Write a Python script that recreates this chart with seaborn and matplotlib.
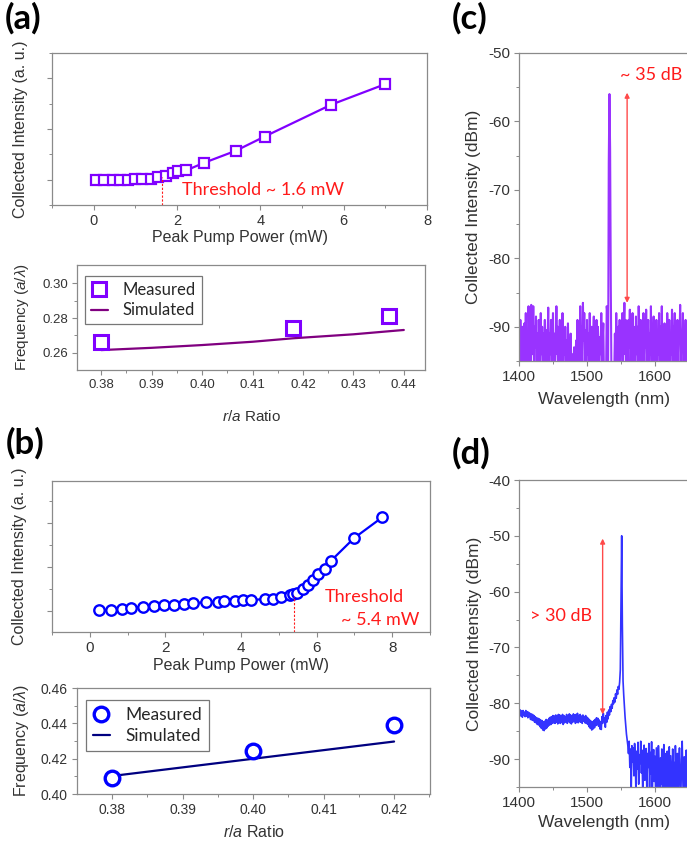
import matplotlib
matplotlib.use("Agg")
import matplotlib.pyplot as plt
import numpy as np
import pandas as pd
import seaborn as sns

# ---------------- data ----------------
# (a) violet laser: light-in / light-out
a_power = [0.06, 0.24, 0.46, 0.64, 0.82, 0.98, 1.17, 1.37, 1.55, 1.73, 1.90,
           2.03, 2.22, 2.64, 3.41, 4.10, 5.70, 6.98]
a_intensity = [0.0, 0.0, 0.0, 0.0, 0.002, 0.005, 0.008, 0.013, 0.046, 0.078,
               0.13, 0.163, 0.183, 0.33, 0.57, 0.85, 1.48, 1.88]
a_threshold = 1.65

# (a) frequency vs r/a
a_ratio_meas = [0.380, 0.418, 0.437]
a_freq_meas = [0.2663, 0.2742, 0.2813]
a_ratio_sim = [0.380, 0.390, 0.400, 0.410, 0.418, 0.430, 0.440]
a_freq_sim = [0.2615, 0.2628, 0.2644, 0.2663, 0.2683, 0.2706, 0.2731]

# (b) blue laser: light-in / light-out
b_power = [0.25, 0.57, 0.85, 1.10, 1.41, 1.69, 1.97, 2.22, 2.48, 2.74, 3.07,
           3.40, 3.56, 3.84, 4.04, 4.26, 4.63, 4.85, 5.07, 5.29, 5.38, 5.49,
           5.64, 5.78, 5.91, 6.04, 6.22, 6.37, 6.99, 7.73]
b_intensity = [0.015, 0.030, 0.053, 0.076, 0.091, 0.114, 0.129, 0.144, 0.159,
               0.174, 0.197, 0.212, 0.227, 0.235, 0.242, 0.250, 0.265, 0.280,
               0.318, 0.356, 0.380, 0.417, 0.508, 0.583, 0.712, 0.848, 0.947,
               1.129, 1.652, 2.121]
b_threshold = 5.41

# (b) frequency vs r/a
b_ratio_meas = [0.38, 0.40, 0.42]
b_freq_meas = [0.4093, 0.4245, 0.4391]
b_ratio_sim = [0.38, 0.42]
b_freq_sim = [0.4102, 0.4297]

# (c) spectrum, 1 nm steps from 1400 nm
c_start = 1400
c_dbm = [
    -91, -95, -89, -93, -96, -90, -92, -97, -89.5, -94,
    -88, -95, -91, -96, -87, -93, -90, -97, -86.8, -92,
    -94, -87, -96, -90, -93, -88.5, -95, -91, -97, -89,
    -92, -96, -88, -94, -90, -97, -91, -93, -89, -96,
    -90.5, -95, -92, -87.2, -96, -91, -94, -89, -97, -92,
    -88, -95, -91, -96, -93, -87, -94, -90, -97, -92.5,
    -89, -96, -93, -95, -88, -97, -91, -94, -90, -96,
    -92, -97, -89.5, -95, -93, -96, -91, -97, -94, -95.5,
    -96, -93, -97, -95, -92, -96, -89, -94, -91, -97,
    -87, -93, -90, -96, -86.5, -92, -88, -95, -90.5, -97,
    -89, -94, -91, -96, -88, -93, -95, -90, -97, -92,
    -88.5, -96, -91, -94, -89, -97, -90, -93, -96, -91.5,
    -94, -88, -96, -92, -89.5, -98, -98, -98, -98, -87,
    -88, -98, -66, -56, -64, -84, -98, -98, -98, -98,
    -97, -91, -95, -88, -93, -96, -90, -94, -89, -96,
    -91, -93, -88, -97, -90, -86.5, -94, -89, -96, -91,
    -95, -89, -93, -87.5, -96, -91, -94, -88, -97, -90,
    -93, -96, -88.5, -94, -90, -97, -87, -92, -95, -89,
    -96, -91, -94, -88, -97, -90.5, -93, -87.5, -95, -92,
    -89, -96, -91, -94, -87, -97, -90, -93, -88.5, -96,
    -92, -95, -89, -97, -91, -94, -88, -96, -90, -93,
    -87, -95, -92, -96, -89.5, -94, -90, -97, -88, -93,
    -95, -89, -96, -91, -94, -87.5, -97, -90, -93, -88,
    -96, -91, -94, -89, -97, -90, -92, -86.8, -95, -91,
    -93, -88, -96, -90, -94, -89, -97, -91, -93, -88,
    -95,
]

# (d) spectrum, 1 nm steps from 1400 nm
d_start = 1400
d_dbm = [
    -81.0, -82.2, -81.2, -82.3, -81.4, -82.5, -81.3, -82.1, -81.6, -82.4,
    -81.3, -82.3, -81.5, -82.6, -81.6, -82.4, -81.8, -82.9, -81.9, -83.0,
    -82.0, -83.1, -82.2, -83.4, -82.4, -83.5, -82.6, -83.8, -82.7, -83.9,
    -82.8, -84.2, -83.0, -84.5, -83.1, -84.8, -83.3, -84.9, -83.2, -84.6,
    -82.9, -84.4, -83.0, -84.1, -82.7, -83.9, -82.5, -83.8, -82.4, -83.6,
    -82.2, -83.5, -82.3, -83.6, -82.1, -83.4, -82.2, -83.7, -82.0, -83.5,
    -82.1, -83.6, -82.3, -83.4, -82.0, -83.8, -82.2, -83.5, -82.4, -83.3,
    -82.0, -83.6, -82.2, -83.3, -81.9, -83.5, -82.1, -83.7, -82.3, -83.4,
    -81.9, -83.2, -82.1, -83.6, -82.0, -83.4, -81.8, -83.5, -82.2, -83.3,
    -82.0, -83.4, -82.3, -83.6, -82.1, -83.2, -82.4, -83.5, -82.2, -83.6,
    -82.5, -83.8, -82.7, -84.2, -83.0, -84.5, -83.2, -84.8, -83.3, -84.6,
    -83.1, -84.4, -82.9, -84.0, -82.6, -83.8, -82.7, -84.1, -83.0, -84.6,
    -83.3, -84.7, -82.4, -83.6, -81.8, -83.2, -82.6, -84.3, -82.2, -83.4,
    -81.6, -82.8, -81.2, -82.1, -80.6, -81.5, -80.2, -80.9, -79.5, -80.1,
    -79.0, -79.8, -78.3, -79.1, -77.6, -78.4, -77.0, -77.5, -76.2, -74.0,
    -62.0, -50.0, -66.0, -76.0, -78.5, -80.5, -82.5, -84.0, -85.5, -86.5,
    -87.5, -89.0, -86.8, -91.5, -88.2, -96.0, -87.6, -90.5, -88.0, -93.0,
    -87.2, -90.0, -96.5, -88.6, -91.8, -87.0, -94.5, -89.2, -90.8, -86.8,
    -92.5, -88.4, -97.0, -89.6, -87.5, -93.8, -90.2, -88.1, -96.0, -89.0,
    -91.5, -87.2, -95.5, -88.8, -92.6, -86.9, -97.0, -90.4, -88.3, -94.0,
    -89.5, -97.0, -88.0, -92.0, -96.5, -87.6, -91.0, -97.0, -89.8, -94.5,
    -88.2, -96.0, -90.6, -87.4, -97.0, -92.2, -89.0, -95.5, -88.6, -97.0,
    -91.4, -87.8, -96.0, -89.4, -93.5, -97.0, -88.2, -95.0, -90.6, -97.0,
    -87.6, -92.8, -96.5, -89.0, -97.0, -91.2, -88.0, -95.5, -97.0, -90.0,
    -86.8, -94.0, -97.0, -89.6, -92.4, -97.0, -88.4, -96.0, -91.0, -97.0,
    -89.0,
]

# annotations (arrow ends in dBm)
c_arrow = (1559, -86.5, -55.8)
d_arrow = (1523, -82.0, -50.5)

# ---------------- style ----------------
sns.set_theme(style="ticks")
plt.rcParams["font.family"] = ["Liberation Sans", "DejaVu Sans"]
plt.rcParams.update({
    "mathtext.fontset": "custom",
    "mathtext.rm": "Liberation Sans",
    "mathtext.it": "Liberation Sans:italic",
    "axes.edgecolor": "#8a8a8a",
    "axes.linewidth": 0.9,
    "xtick.color": "#8a8a8a",
    "ytick.color": "#8a8a8a",
    "xtick.labelcolor": "#333333",
    "ytick.labelcolor": "#333333",
    "axes.labelcolor": "#333333",
    "xtick.direction": "out",
    "ytick.direction": "out",
    "xtick.major.size": 3.5,
    "ytick.major.size": 3.5,
    "xtick.minor.size": 2.2,
    "ytick.minor.size": 2.2,
    "xtick.major.width": 0.8,
    "ytick.major.width": 0.8,
    "xtick.minor.width": 0.7,
    "ytick.minor.width": 0.7,
})

W, H = 687, 844
fig = plt.figure(figsize=(W / 100, H / 100), dpi=100)
fig.patch.set_facecolor("white")


def add_axes_px(l, t, r, b):
    return fig.add_axes([l / W, 1 - b / H, (r - l) / W, (b - t) / H])


def place_labels(ax, xlab, ylab, xy, yx, size):
    ax.set_xlabel(xlab, fontsize=size, va="center")
    ax.set_ylabel(ylab, fontsize=size, va="center")
    ax.xaxis.set_label_coords(0.5, xy)
    ax.yaxis.set_label_coords(yx, 0.5)


VIOLET = "#8000ff"
PURPLE = "#800080"
BLUE = "#0000ff"
NAVY = "#000080"
RED = "#ff1a1a"
ANNOT = "Lato"

# panel letters
for letter, x, y in [("(a)", 5, 2), ("(b)", 6, 427), ("(c)", 452, 2), ("(d)", 452, 437)]:
    fig.text(x / W, 1 - y / H, letter, fontsize=25, fontweight="bold",
             family=[ANNOT, "DejaVu Sans"], ha="left", va="top", color="black")

# ---- (a) L-L curve ----
ax = add_axes_px(52, 53, 427, 205)
sns.lineplot(x=a_power, y=a_intensity, ax=ax, color=VIOLET, lw=1.6,
             marker="s", markersize=7.5, markerfacecolor="white",
             markeredgecolor=VIOLET, markeredgewidth=1.6, estimator=None, sort=False)
ax.set_xlim(-1, 8)
ax.set_ylim(-0.5, 2.5)
ax.set_xticks([0, 2, 4, 6, 8])
ax.set_xticks([-1, 1, 3, 5, 7], minor=True)
ax.set_yticks([0, 1, 2])
ax.set_yticks([-0.5, 0.5, 1.5, 2.5], minor=True)
ax.set_yticklabels([])
ax.tick_params(axis="x", labelsize=10.5, pad=3)
ax.vlines(a_threshold, -0.5, 0.06, colors=RED, lw=0.8, linestyles=(0, (2, 1.5)))
ax.text(2.11, -0.2, "Threshold ~ 1.6 mW", color=RED, fontsize=13,
        family=[ANNOT, "DejaVu Sans"], ha="left", va="center")
place_labels(ax, "Peak Pump Power (mW)", "Collected Intensity (a. u.)", -0.217, -0.085, 11.5)

# ---- (a) frequency ----
ax = add_axes_px(77, 265, 425, 370)
sns.lineplot(x=a_ratio_sim, y=a_freq_sim, ax=ax, color=PURPLE, lw=1.6,
             estimator=None, label="Simulated")
sns.lineplot(x=a_ratio_meas, y=a_freq_meas, ax=ax, color=VIOLET, linestyle="",
             marker="s", markersize=10, markerfacecolor="white",
             markeredgecolor=VIOLET, markeredgewidth=2.2, estimator=None, label="Measured")
ax.set_xlim(0.3752, 0.4442)
ax.set_ylim(0.25, 0.3106)
ax.set_xticks([0.38, 0.39, 0.40, 0.41, 0.42, 0.43, 0.44])
ax.set_xticks([0.385, 0.395, 0.405, 0.415, 0.425, 0.435], minor=True)
ax.set_xticklabels(["0.38", "0.39", "0.40", "0.41", "0.42", "0.43", "0.44"])
ax.set_yticks([0.26, 0.28, 0.30])
ax.set_yticks([0.27, 0.29], minor=True)
ax.set_yticklabels(["0.26", "0.28", "0.30"])
ax.tick_params(labelsize=9.5, pad=3)
h, l = ax.get_legend_handles_labels()
leg = ax.legend(h[::-1], l[::-1], loc="upper left", bbox_to_anchor=(0.0, 0.97),
                frameon=True, fancybox=False, edgecolor="#777777", framealpha=1,
                prop={"family": ANNOT, "size": 12}, handlelength=1.0,
                handletextpad=0.9, borderpad=0.35, labelspacing=0.25)
leg.get_frame().set_linewidth(0.9)
place_labels(ax, r"$\mathit{r/a}$ Ratio", r"Frequency ($\mathit{a/\lambda}$)", -0.44, -0.158, 11)

# ---- (b) L-L curve ----
ax = add_axes_px(52, 481, 430, 632)
sns.lineplot(x=b_power, y=b_intensity, ax=ax, color=BLUE, lw=1.6,
             marker="o", markersize=7.5, markerfacecolor="white",
             markeredgecolor=BLUE, markeredgewidth=1.7, estimator=None, sort=False)
ax.set_xlim(-1, 9)
ax.set_ylim(-0.48, 2.95)
ax.set_xticks([0, 2, 4, 6, 8])
ax.set_xticks([-1, 1, 3, 5, 7, 9], minor=True)
ax.set_yticks([0, 1, 2])
ax.set_yticks([0.5, 1.5, 2.5], minor=True)
ax.set_yticklabels([])
ax.tick_params(axis="x", labelsize=11, pad=3)
ax.vlines(b_threshold, -0.48, 0.33, colors=RED, lw=0.8, linestyles=(0, (2, 1.5)))
ax.text(6.22, 0.32, "Threshold", color=RED, fontsize=13,
        family=[ANNOT, "DejaVu Sans"], ha="left", va="center")
ax.text(6.65, -0.21, "~ 5.4 mW", color=RED, fontsize=13,
        family=[ANNOT, "DejaVu Sans"], ha="left", va="center")
place_labels(ax, "Peak Pump Power (mW)", "Collected Intensity (a. u.)", -0.219, -0.085, 11.5)

# ---- (b) frequency ----
ax = add_axes_px(77, 688, 430, 794)
sns.lineplot(x=b_ratio_sim, y=b_freq_sim, ax=ax, color=NAVY, lw=1.6,
             estimator=None, label="Simulated")
sns.lineplot(x=b_ratio_meas, y=b_freq_meas, ax=ax, color=BLUE, linestyle="",
             marker="o", markersize=10.5, markerfacecolor="white",
             markeredgecolor=BLUE, markeredgewidth=2.4, estimator=None, label="Measured")
ax.set_xlim(0.375, 0.4251)
ax.set_ylim(0.40, 0.46)
ax.set_xticks([0.38, 0.39, 0.40, 0.41, 0.42])
ax.set_xticks([0.385, 0.395, 0.405, 0.415, 0.425], minor=True)
ax.set_xticklabels(["0.38", "0.39", "0.40", "0.41", "0.42"])
ax.set_yticks([0.40, 0.42, 0.44, 0.46])
ax.set_yticks([0.41, 0.43, 0.45], minor=True)
ax.set_yticklabels(["0.40", "0.42", "0.44", "0.46"])
ax.tick_params(labelsize=10, pad=3)
h, l = ax.get_legend_handles_labels()
leg = ax.legend(h[::-1], l[::-1], loc="upper left", bbox_to_anchor=(0.0, 0.97),
                frameon=True, fancybox=False, edgecolor="#777777", framealpha=1,
                prop={"family": ANNOT, "size": 12.5}, handlelength=1.0,
                handletextpad=0.9, borderpad=0.4, labelspacing=0.3)
leg.get_frame().set_linewidth(0.9)
place_labels(ax, r"$\mathit{r/a}$ Ratio", r"Frequency ($\mathit{a/\lambda}$)", -0.36, -0.156, 11.5)


def spectrum_axes(top, bottom, ylim, yticks, yminor):
    ax = add_axes_px(519, top, 689, bottom)
    ax.set_xlim(1400, 1650)
    ax.set_ylim(*ylim)
    ax.set_xticks([1400, 1500, 1600])
    ax.set_xticks([1450, 1550, 1650], minor=True)
    ax.set_yticks(yticks)
    ax.set_yticklabels([str(v) for v in yticks])
    ax.set_yticks(yminor, minor=True)
    ax.tick_params(labelsize=11, pad=3)
    return ax


# ---- (c) spectrum ----
ax = spectrum_axes(53, 361, (-95, -50), [-50, -60, -70, -80, -90], [-55, -65, -75, -85, -95])
c_wl = np.arange(c_start, c_start + len(c_dbm))
sns.lineplot(x=c_wl, y=c_dbm, ax=ax, color=VIOLET, lw=1.5, alpha=0.8, estimator=None)
ax.annotate("", xy=(c_arrow[0], c_arrow[2]), xytext=(c_arrow[0], c_arrow[1]),
            arrowprops=dict(arrowstyle="<|-|>", color="#ff4a4a", lw=1.0,
                            mutation_scale=7, shrinkA=0, shrinkB=0))
ax.text(1548, -53.2, "~ 35 dB", color=RED, fontsize=13,
        family=[ANNOT, "DejaVu Sans"], ha="left", va="center")
place_labels(ax, "Wavelength (nm)", "Collected Intensity (dBm)", -0.125, -0.27, 12.5)

# ---- (d) spectrum ----
ax = spectrum_axes(480, 787, (-95, -40), [-40, -50, -60, -70, -80, -90], [-45, -55, -65, -75, -85, -95])
d_wl = np.arange(d_start, d_start + len(d_dbm))
sns.lineplot(x=d_wl, y=d_dbm, ax=ax, color=BLUE, lw=1.2, alpha=0.8, estimator=None)
ax.annotate("", xy=(d_arrow[0], d_arrow[2]), xytext=(d_arrow[0], d_arrow[1]),
            arrowprops=dict(arrowstyle="<|-|>", color="#ff4a4a", lw=1.0,
                            mutation_scale=7, shrinkA=0, shrinkB=0))
ax.text(1462, -64.3, "> 30 dB", color=RED, fontsize=13,
        family=[ANNOT, "DejaVu Sans"], ha="center", va="center")
place_labels(ax, "Wavelength (nm)", "Collected Intensity (dBm)", -0.115, -0.26, 12.5)

fig.savefig("out.png", dpi=100, facecolor="white")
